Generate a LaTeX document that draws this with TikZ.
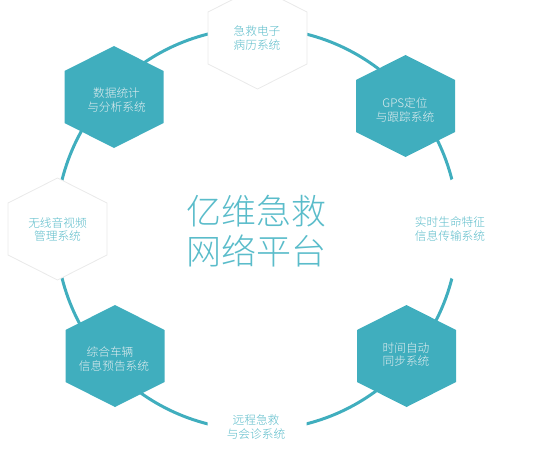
\documentclass[tikz,border=0pt]{standalone}
\usepackage{fontspec}
\newfontfamily\cjk{Noto Sans CJK SC Light}
\definecolor{tealfill}{HTML}{40AEBE}
\definecolor{tealtext}{HTML}{5ABCCA}
\definecolor{hexedge}{HTML}{EAEAEA}
\definecolor{palewhite}{HTML}{E4EEF0}
\tikzset{
  pics/hexa/.style={code={
    \path[pic actions] (0,-51) -- (49.5,-26) -- (49.5,26) -- (0,51) -- (-49.5,26) -- (-49.5,-26) -- cycle;
  }},
  tealhex/.style={fill=tealfill, draw=none},
  whitehex/.style={fill=white, draw=hexedge, line width=0.8pt},
  blankhex/.style={fill=white, draw=none},
  label/.style={font=\cjk\fontsize{11.7}{13.6}\selectfont, align=center, inner sep=0pt},
  onteal/.style={label, text=palewhite},
  onwhite/.style={label, text=tealtext},
  ring/.style={draw=tealfill, line width=3pt},
  title/.style={font=\cjk\fontsize{35}{40}\selectfont, align=center, inner sep=0pt, text=tealtext}
}
\begin{document}
\begin{tikzpicture}[x=1pt,y=-1pt]
\useasboundingbox (0,0) rectangle (543,460);
\coordinate (c) at (257,229);
\draw[ring] (c) circle[radius=201];
% hexagons
\pic[whitehex] at (257.5,38) {hexa};
\pic[tealhex] at (114,97) {hexa};
\pic[tealhex] at (405.5,106) {hexa};
\pic[blankhex] at (455,229) {hexa};
\pic[tealhex] at (406.5,356) {hexa};
\pic[blankhex] at (257,428) {hexa};
\pic[tealhex] at (115,356) {hexa};
\pic[whitehex] at (57.5,229) {hexa};
% labels
\node[onwhite] (emr) at (257,38) {急救电子\\病历系统};
\node[onteal] (stat) at (116.5,100) {数据统计\\与分析系统};
\node[onteal] (gps) at (405,110) {GPS定位\\与跟踪系统};
\node[onwhite] (vital) at (450,229) {实时生命特征\\信息传输系统};
\node[onteal] (time) at (406,354.5) {时间自动\\同步系统};
\node[onwhite] (remote) at (256,427) {远程急救\\与会诊系统};
\node[onteal] (veh) at (114,359) {综合车辆\hspace*{8pt}\\信息预告系统};
\node[onwhite] (av) at (57.5,229.5) {无线音视频\\管理系统};
\node[title] (main) at (256.5,231) {亿维急救\\网络平台};
\end{tikzpicture}
\end{document}
